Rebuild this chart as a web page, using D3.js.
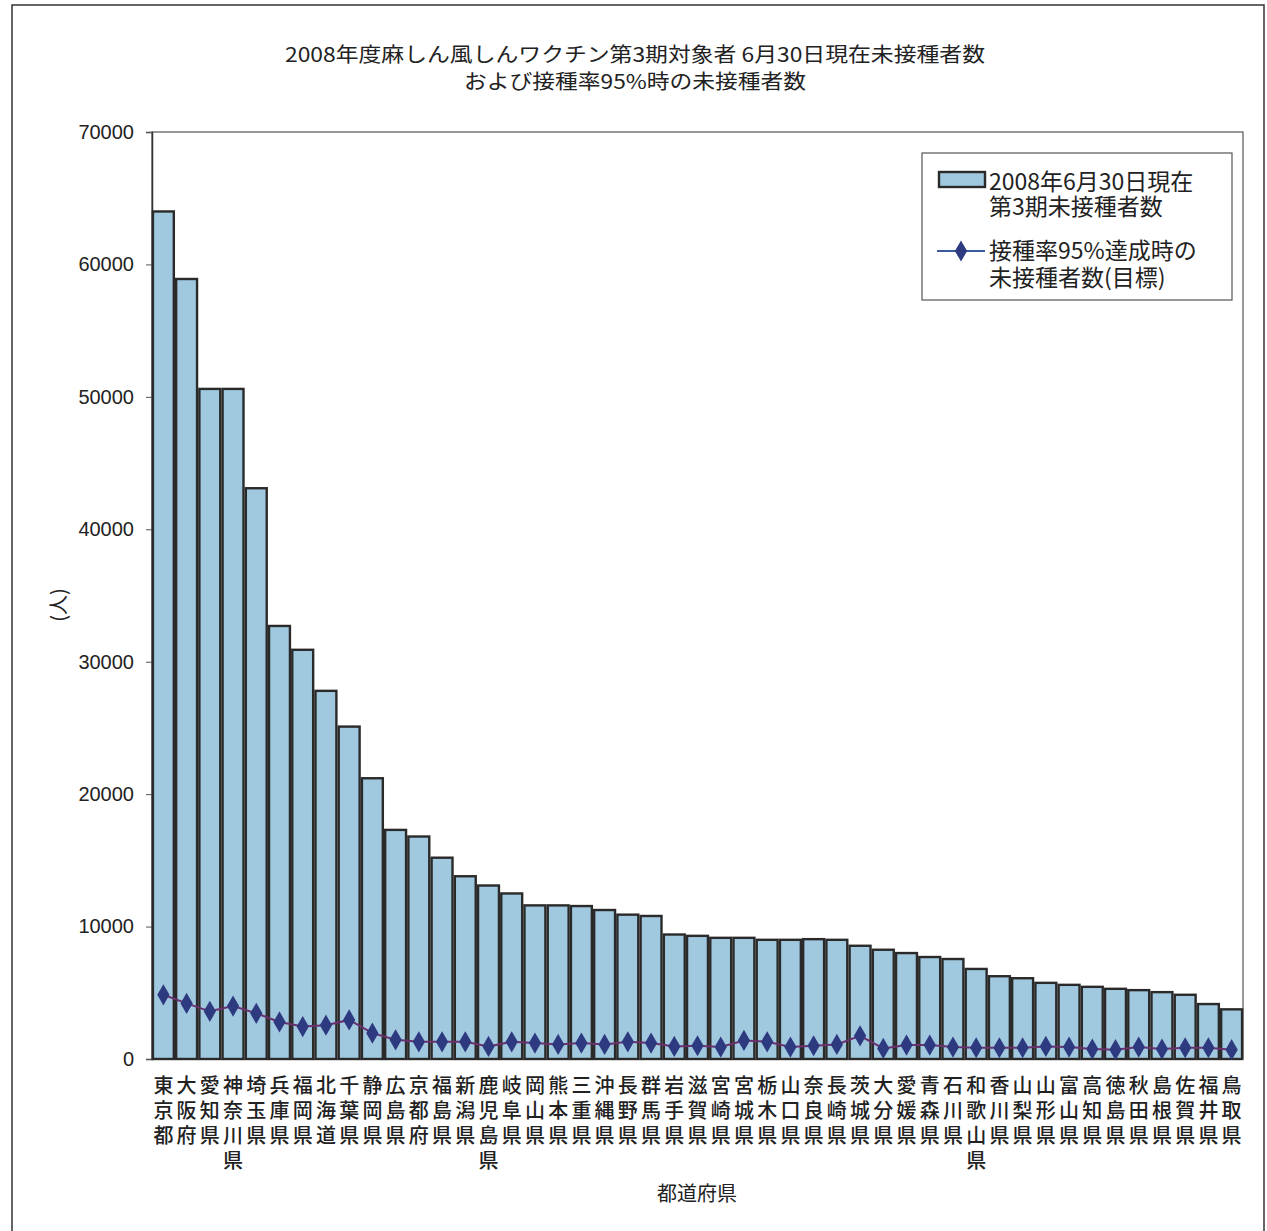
<!DOCTYPE html>
<html>
<head>
<meta charset="utf-8">
<script src="https://cdn.jsdelivr.net/npm/d3@7"></script>
<style>
  body{margin:0;background:#fff;}
  text{font-family:"Noto Sans CJK JP","Noto Sans",sans-serif;fill:#222;}
</style>
</head>
<body>
<div id="result"></div>
<script>
// prefectures, sorted by unvaccinated count
var prefs = ["東京都","大阪府","愛知県","神奈川県","埼玉県","兵庫県","福岡県","北海道","千葉県","静岡県",
  "広島県","京都府","福島県","新潟県","鹿児島県","岐阜県","岡山県","熊本県","三重県","沖縄県",
  "長野県","群馬県","岩手県","滋賀県","宮崎県","宮城県","栃木県","山口県","奈良県","長崎県",
  "茨城県","大分県","愛媛県","青森県","石川県","和歌山県","香川県","山梨県","山形県","富山県",
  "高知県","徳島県","秋田県","島根県","佐賀県","福井県","鳥取県"];

// 2008/6/30 unvaccinated (bars)
var unvaccinated = [64000,58900,50600,50600,43100,32700,30900,27800,25100,21200,
  17300,16800,15200,13800,13100,12500,11600,11600,11550,11250,
  10900,10800,9400,9300,9150,9150,9000,9000,9050,9000,
  8550,8250,8000,7700,7550,6800,6250,6100,5750,5600,
  5450,5300,5200,5050,4850,4150,3750];

// unvaccinated at 95% (line)
var target95 = [4850,4200,3600,4000,3450,2800,2450,2550,2950,1950,
  1450,1300,1300,1300,950,1300,1200,1100,1200,1100,
  1300,1200,950,1000,900,1400,1300,900,1000,1100,
  1750,800,1050,1050,900,850,850,850,950,900,
  750,700,900,750,850,850,700];

var yTicks = [0,10000,20000,30000,40000,50000,60000,70000];
var titleLines = ["2008年度麻しん風しんワクチン第3期対象者 6月30日現在未接種者数","および接種率95%時の未接種者数"];
var legendBar = ["2008年6月30日現在","第3期未接種者数"];
var legendLine = ["接種率95%達成時の","未接種者数(目標)"];

var W = 1267, H = 1231;
var plot = {left:152, right:1243, top:132, bottom:1059};
var barFill = "#a0c8df", barStroke = "#2a2a2a";
var lineColor = "#6a3070", dotColor = "#2e3a80";

var svg = d3.select("#result").append("svg")
  .attr("width",W).attr("height",H);

// outer frame
svg.append("rect")
  .attr("x",12).attr("y",5).attr("width",1252).attr("height",1250)
  .attr("fill","none").attr("stroke","#333").attr("stroke-width",1.5);

// title
svg.selectAll("text.title").data(titleLines).enter().append("text")
  .attr("class","title")
  .attr("x",635).attr("y",function(d,i){return 62+i*27;})
  .attr("text-anchor","middle").attr("font-size",20)
  .attr("textLength",function(d,i){return i==0?700:342;})
  .attr("lengthAdjust","spacingAndGlyphs")
  .text(function(d){return d;});

var x = d3.scaleBand().domain(prefs).range([plot.left,plot.right])
  .paddingInner(0.1).paddingOuter(0.04);
var y = d3.scaleLinear().domain([0,70000]).range([plot.bottom,plot.top]);

// plot area border
svg.append("rect")
  .attr("x",plot.left).attr("y",plot.top)
  .attr("width",plot.right-plot.left).attr("height",plot.bottom-plot.top)
  .attr("fill","none").attr("stroke","#555").attr("stroke-width",1.2);

// y axis
var yAxis = d3.axisLeft(y).tickValues(yTicks).tickSize(6).tickPadding(12)
  .tickFormat(d3.format("d"));
var gy = svg.append("g").attr("transform","translate("+plot.left+",0)").call(yAxis);
gy.select(".domain").attr("stroke","#333").attr("stroke-width",1.5);
gy.selectAll(".tick line").attr("stroke","#555");
gy.selectAll(".tick text")
  .style("font-family","'Liberation Sans',Arial,sans-serif")
  .attr("font-size",20).attr("fill","#222");

svg.append("text")
  .attr("transform","translate(66,605) rotate(-90)")
  .attr("text-anchor","middle").attr("font-size",20)
  .text("(人)");

// bars
svg.selectAll("rect.bar").data(unvaccinated).enter().append("rect")
  .attr("class","bar")
  .attr("x",function(d,i){return x(prefs[i]);})
  .attr("y",function(d){return y(d);})
  .attr("width",x.bandwidth())
  .attr("height",function(d){return y(0)-y(d);})
  .attr("fill",barFill).attr("stroke",barStroke).attr("stroke-width",2.4);

// 95% line
var line = d3.line()
  .x(function(d,i){return x(prefs[i])+x.bandwidth()/2;})
  .y(function(d){return y(d);});
svg.append("path").datum(target95)
  .attr("d",line).attr("fill","none")
  .attr("stroke",lineColor).attr("stroke-width",2);
var diamond = d3.symbol().type(d3.symbolDiamond).size(130);
svg.selectAll("path.dot").data(target95).enter().append("path")
  .attr("class","dot")
  .attr("d",diamond)
  .attr("transform",function(d,i){
    return "translate("+(x(prefs[i])+x.bandwidth()/2)+","+y(d)+")";})
  .attr("fill",dotColor);

// x labels (stacked vertically)
var xl = svg.selectAll("text.xlab").data(prefs).enter().append("text")
  .attr("class","xlab")
  .attr("text-anchor","middle").attr("font-size",20).attr("font-weight",500);
xl.selectAll("tspan").data(function(d){
    var c = d.split(""), px = x(d)+x.bandwidth()/2;
    return c.map(function(ch){return {ch:ch,x:px};});
  }).enter().append("tspan")
  .attr("x",function(d){return d.x;})
  .attr("y",function(d,i){return 1093+i*25;})
  .text(function(d){return d.ch;});

svg.append("text")
  .attr("x",697).attr("y",1201)
  .attr("text-anchor","middle").attr("font-size",20)
  .text("都道府県");

// legend
var lg = svg.append("g");
lg.append("rect")
  .attr("x",922).attr("y",153).attr("width",310).attr("height",147)
  .attr("fill","#fff").attr("stroke","#555").attr("stroke-width",1.2);
lg.append("rect")
  .attr("x",939).attr("y",172).attr("width",46).attr("height",15)
  .attr("fill",barFill).attr("stroke",barStroke).attr("stroke-width",2.4);
lg.append("line")
  .attr("x1",937).attr("x2",985).attr("y1",251).attr("y2",251)
  .attr("stroke","#3a5a9a").attr("stroke-width",2);
lg.append("path").attr("d",diamond)
  .attr("transform","translate(961,251)").attr("fill",dotColor);
lg.selectAll("text.l1").data(legendBar).enter().append("text")
  .attr("class","l1")
  .attr("x",989).attr("y",function(d,i){return 190+i*25;})
  .attr("font-size",23).text(function(d){return d;});
lg.selectAll("text.l2").data(legendLine).enter().append("text")
  .attr("class","l2")
  .attr("x",989).attr("y",function(d,i){return 259+i*27;})
  .attr("font-size",23).text(function(d){return d;});
</script>
</body>
</html>
